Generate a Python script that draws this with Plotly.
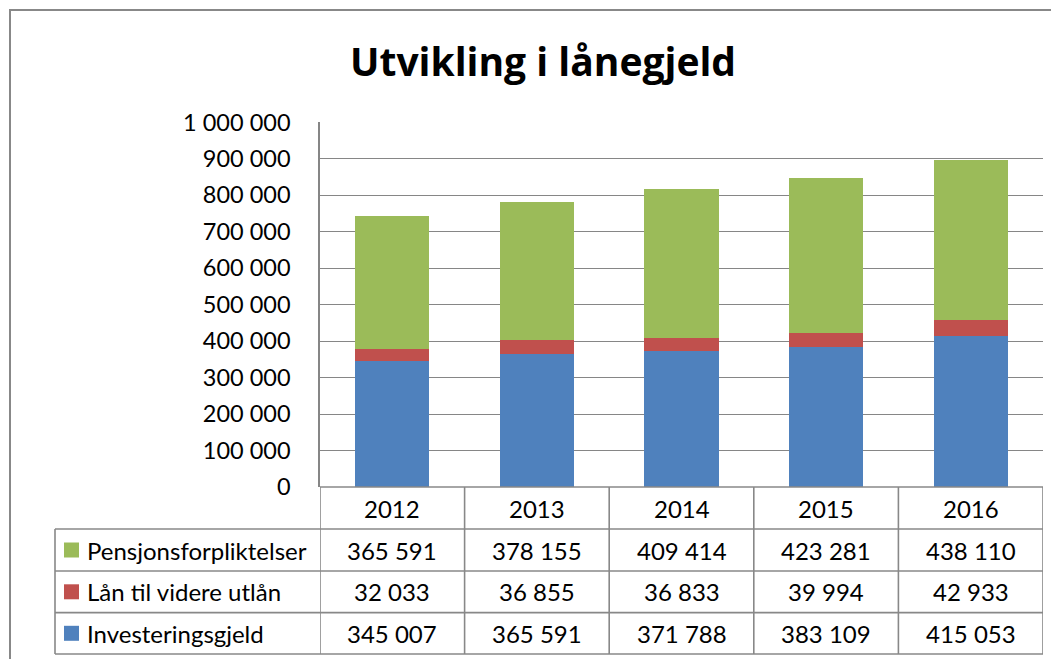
import plotly.graph_objects as go

years = ["2012", "2013", "2014", "2015", "2016"]
investeringsgjeld = [345007, 365591, 371788, 383109, 415053]
laan_videre = [32033, 36855, 36833, 39994, 42933]
pensjon = [365591, 378155, 409414, 423281, 438110]

series_names = ["Investeringsgjeld", "Lån til videre utlån", "Pensjonsforpliktelser"]
series_values = [investeringsgjeld, laan_videre, pensjon]
series_colors = ["#4F81BD", "#C0504D", "#9BBB59"]

title_text = "Utvikling i lånegjeld"

OFF = 8  # page body margin
W, H = 1059 - OFF, 659 - OFF
FONT = "Lato"
GRAY = "#888888"


def px(x):
    return (x - OFF) / W


def py(y):
    return 1 - (y - OFF) / H


fig = go.Figure()
for name, vals, col in zip(series_names, series_values, series_colors):
    fig.add_trace(go.Bar(x=years, y=vals, name=name, marker=dict(color=col, line=dict(width=0)),
                         showlegend=False))

plot_left, plot_right = 320, 1043
plot_top, plot_bottom = 122.3, 487

fig.update_layout(
    width=W, height=H,
    margin=dict(l=0, r=0, t=0, b=0, pad=0),
    paper_bgcolor="white", plot_bgcolor="white",
    barmode="stack", bargap=0.488,
    separators=", ",
    font=dict(family=FONT, size=24, color="black"),
    xaxis=dict(type="category", domain=[px(plot_left), px(plot_right)], range=[-0.5, 4.5],
               showticklabels=False, showgrid=False, zeroline=False, showline=False, ticks="",
               automargin=False),
    yaxis=dict(domain=[py(plot_bottom), py(plot_top)], range=[0, 1000000], dtick=100000,
               tickformat=",d", showgrid=True, gridcolor="#868686", gridwidth=1.4,
               zeroline=False, showline=True, linecolor="#868686", linewidth=1.5,
               ticks="", ticklabelstandoff=23, automargin=False,
               tickfont=dict(family=FONT, size=23.5, color="black")),
)

shapes = []
shapes.append(dict(type="rect", xref="paper", yref="paper", x0=px(10), x1=1.02, y0=-0.02, y1=py(10),
                   line=dict(color=GRAY, width=2), fillcolor="rgba(0,0,0,0)", layer="below"))

row_lines = [487, 529, 571, 612.6, 654]
table_left = 55
line_style = dict(color=GRAY, width=1.6)
shapes.append(dict(type="line", xref="x", yref="paper", x0=-0.5, x1=4.5,
                   y0=py(row_lines[0]), y1=py(row_lines[0]), line=line_style))
for yl in row_lines[1:]:
    shapes.append(dict(type="line", xref="paper", yref="paper", x0=px(table_left), x1=px(plot_right),
                       y0=py(yl), y1=py(yl), line=line_style))
for i in range(len(years) + 1):
    shapes.append(dict(type="line", xref="x", yref="paper", x0=i - 0.5, x1=i - 0.5,
                       y0=py(row_lines[0]), y1=py(row_lines[-1]), line=line_style))
shapes.append(dict(type="line", xref="paper", yref="paper", x0=px(table_left), x1=px(table_left),
                   y0=py(row_lines[1]), y1=py(row_lines[-1]), line=line_style))

annotations = []
annotations.append(dict(text="<b>" + title_text + "</b>", xref="paper", yref="paper",
                        x=px(542.5), y=py(60), xanchor="center", yanchor="middle", showarrow=False,
                        font=dict(family="Open Sans", size=39, color="black")))

year_center = (row_lines[0] + row_lines[1]) / 2
for i, yr in enumerate(years):
    annotations.append(dict(text=yr, x=i, xref="x", yref="paper", y=py(year_center),
                            xanchor="center", yanchor="middle", showarrow=False))

table_order = [2, 1, 0]
for r, si in enumerate(table_order):
    yc = (row_lines[r + 1] + row_lines[r + 2]) / 2
    shapes.append(dict(type="rect", xref="paper", yref="paper", x0=px(64), x1=px(79),
                       y0=py(yc + 7.5), y1=py(yc - 7.5), fillcolor=series_colors[si], line=dict(width=0)))
    annotations.append(dict(text=series_names[si], xref="paper", yref="paper", x=px(85), y=py(yc),
                            xanchor="left", yanchor="middle", showarrow=False))
    for i, v in enumerate(series_values[si]):
        annotations.append(dict(text=f"{v:,}".replace(",", " "), x=i, xref="x", yref="paper", y=py(yc),
                                xanchor="center", yanchor="middle", showarrow=False))

fig.update_layout(shapes=shapes, annotations=annotations)
fig.write_html("out.html")
